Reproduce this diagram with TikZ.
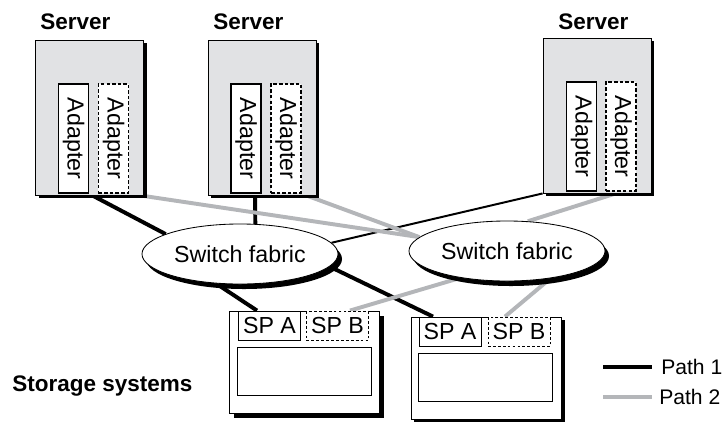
\documentclass[tikz,border=0pt]{standalone}
\usepackage{fontspec}
\setmainfont{Liberation Sans}
\usetikzlibrary{shapes.geometric}
\usetikzlibrary{shadows}
\usetikzlibrary{backgrounds}
\definecolor{pathgray}{RGB}{180,182,185}
\definecolor{boxgray}{RGB}{225,226,228}

\begin{document}
\begin{tikzpicture}[x=0.025cm,y=-0.025cm,
    txt/.style={font=\fontsize{16.5}{19}\selectfont},
    title/.style={inner sep=0pt,font=\bfseries\fontsize{16}{19}\selectfont},
    key/.style={inner sep=0pt,anchor=west,font=\fontsize{15}{18}\selectfont},
    server/.style={draw,fill=boxgray,line width=0.6pt,inner sep=0pt,minimum width=2.7cm,minimum height=3.875cm,
      drop shadow={shadow xshift=0.085cm,shadow yshift=-0.085cm,fill=black,opacity=1}},
    adapter/.style={draw,fill=white,line width=1.3pt,inner sep=0pt,minimum width=0.75cm,minimum height=2.725cm,txt},
    spare/.style={adapter,dash pattern=on 2.5pt off 1.5pt,line width=1.1pt},
    fabric/.style={ellipse,draw,fill=white,line width=0.6pt,inner sep=0pt,minimum width=4.9cm,minimum height=1.5cm,txt,
      drop shadow={shadow xshift=0.1cm,shadow yshift=-0.125cm,fill=black,opacity=1}},
    store/.style={draw,fill=white,line width=0.6pt,inner sep=0pt,minimum width=3.75cm,minimum height=2.55cm,
      drop shadow={shadow xshift=#1,shadow yshift=-#1,fill=black,opacity=1}},
    spbox/.style={draw,fill=white,line width=0.6pt,inner sep=0pt,minimum width=1.55cm,minimum height=0.725cm,anchor=north,txt},
    spdash/.style={spbox,dash pattern=on 2pt off 1.5pt},
    disks/.style={draw,line width=0.6pt,inner sep=0pt,minimum width=3.35cm,minimum height=1.2cm},
    path1/.style={line width=2.8pt,black},
    path2/.style={line width=2.8pt,pathgray}]
  \useasboundingbox (0,0) rectangle (725,422);

  % servers
  \node[title,anchor=west] (t1) at (40,22) {Server};
  \node[title,anchor=west] (t2) at (213,22) {Server};
  \node[title,anchor=west] (t3) at (558,22) {Server};
  \node[server] (s1) at (89.5,117.5) {};
  \node[server] (s2) at (262,117.5) {};
  \node[server] (s3) at (597,115.5) {};
  \node[adapter] (a1) at (73.5,138.5) {\rotatebox{-90}{Adapter}};
  \node[spare] (b1) at (113.5,138.5) {\rotatebox{-90}{Adapter}};
  \node[adapter] (a2) at (246,138.5) {\rotatebox{-90}{Adapter}};
  \node[spare] (b2) at (286,138.5) {\rotatebox{-90}{Adapter}};
  \node[adapter] (a3) at (581.5,136.5) {\rotatebox{-90}{Adapter}};
  \node[spare] (b3) at (621,136.5) {\rotatebox{-90}{Adapter}};

  % switches
  \node[fabric] (sw1) at (240,254) {Switch fabric};
  \node[fabric] (sw2) at (507,251) {Switch fabric};

  % storage
  \node[title,anchor=west] (tst) at (12,386) {Storage systems};
  \node[store=0.125cm] (st1) at (304,362) {};
  \node[store=0.075cm] (st2) at (486.5,368) {};
  \node[spbox] (pa1) at (269.5,311) {SP A};
  \node[spdash] (pb1) at (337.5,311) {SP B};
  \node[spbox] (pa2) at (450,317) {SP A};
  \node[spdash] (pb2) at (519,317) {SP B};
  \node[disks] (d1) at (304,371) {};
  \node[disks] (d2) at (485,377) {};

  \begin{pgfonlayer}{background}
    \draw[path1] (a1.south east) -- (sw1.165);
    \draw[path1] ([xshift=0.225cm]a2.south) -- (sw1.63);
    \draw[line width=1.4pt] (s3.south west) -- (sw1.7);
    \draw[path1] (sw1.231) -- ([xshift=-1.175cm]st1.north);
    \draw[path1] (sw1.352) -- ([xshift=-1.3375cm]st2.north);
    \draw[path2] (b1.south east) -- (sw2.171);
    \draw[path2] (b2.south east) -- (sw2.171);
    \draw[path2] (b3.south) -- (sw2.55);
    \draw[path2] (sw2.210) -- ([xshift=1.15cm]st1.north);
    \draw[path2] (sw2.328) -- ([xshift=0.4625cm]st2.north);
  \end{pgfonlayer}

  % legend
  \coordinate (k1a) at (603,367);
  \coordinate (k1b) at (652,367);
  \coordinate (k2a) at (603,397);
  \coordinate (k2b) at (652,397);
  \draw[path1,line width=3.2pt] (k1a) -- (k1b);
  \draw[path2,line width=3.2pt] (k2a) -- (k2b);
  \node[key] (k1) at (661,367) {Path 1};
  \node[key] (k2) at (659,397) {Path 2};
\end{tikzpicture}
\end{document}
